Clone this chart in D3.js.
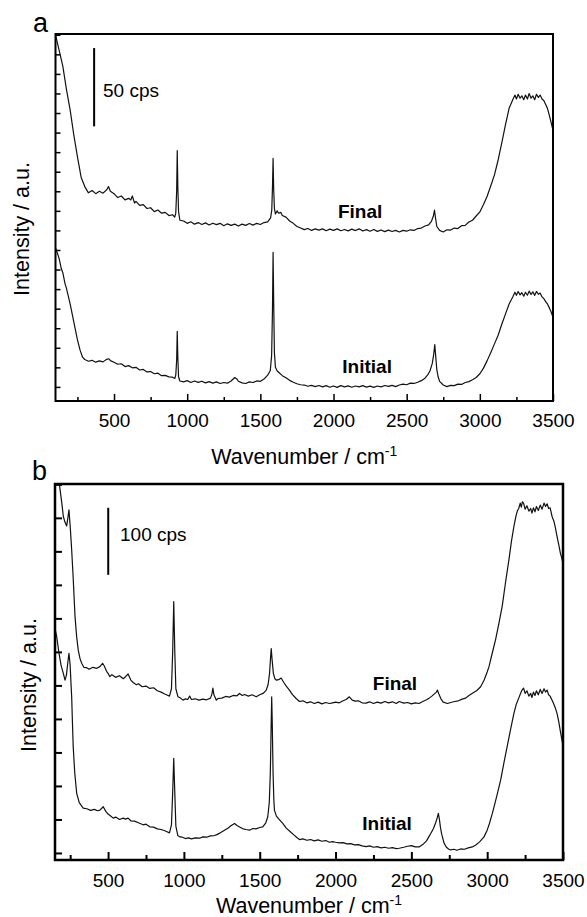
<!DOCTYPE html>
<html>
<head>
<meta charset="utf-8">
<script src="https://cdn.jsdelivr.net/npm/d3@7"></script>
<style>
  body { margin: 0; background: #fff; }
  svg text { font-family: "Liberation Sans", Arial, sans-serif; fill: #000; }
</style>
</head>
<body>
<div id="chart"></div>
<script>
// Raman spectra, [wavenumber cm-1, intensity cps]
const finalA = [[100,225],[125,215],[150,205],[175,190],[200,177],[225,161],[250,147],[275,134],[300,128],[325,124],[350,125.5],[375,123.5],[400,125],[425,123.8],[450,126],[462,128],[475,125],[500,123.5],[525,121],[550,122],[575,119.5],[600,120.5],[615,119.5],[625,122],[640,117.5],[650,118.5],[675,116],[700,116.5],[725,114],[750,114.5],[775,112],[800,113],[825,111],[850,111.5],[875,109.5],[900,110],[915,108.5],[922,111],[928,125],[932,151],[936,128],[941,112],[950,106.5],[975,106],[1000,104.5],[1025,105.5],[1050,104],[1075,105],[1100,103.8],[1125,104.8],[1150,103.5],[1175,104.6],[1200,103.7],[1225,104.5],[1250,103],[1275,104.2],[1300,103.2],[1325,104],[1350,102.8],[1375,104],[1400,103.2],[1425,104.4],[1450,103.4],[1475,104.5],[1500,103.8],[1525,105],[1550,105.5],[1570,108],[1578,113],[1583,128],[1587,146],[1591,127],[1596,114],[1603,110.5],[1615,112.5],[1625,111],[1640,111.5],[1650,109.5],[1675,108.5],[1700,106],[1725,104.5],[1750,102.5],[1775,101.5],[1800,100.5],[1825,101.2],[1850,100],[1875,101],[1900,100.2],[1925,101],[1950,99.8],[1975,100.8],[2000,100],[2025,101],[2050,99.8],[2075,100.6],[2100,99.7],[2125,100.8],[2150,99.9],[2175,101],[2200,99.6],[2225,100.5],[2250,99.5],[2275,100.6],[2300,99.4],[2325,100.3],[2350,99.2],[2375,100.2],[2400,99.3],[2425,100],[2450,99],[2475,100],[2500,99.5],[2525,100.4],[2550,100],[2575,101.2],[2600,101.5],[2625,102.8],[2650,103.5],[2670,106],[2682,109],[2690,113],[2697,108],[2706,102.5],[2725,100],[2750,99],[2775,100.4],[2800,100.2],[2825,101.5],[2850,101.2],[2875,103],[2900,103.2],[2925,105.4],[2950,106.5],[2975,109.2],[3000,111.8],[3025,116.5],[3050,121.8],[3075,128.5],[3100,135.5],[3125,145],[3150,156],[3175,167.5],[3200,178],[3225,183.5],[3240,186.5],[3250,184],[3262,187],[3275,184.5],[3287,186],[3300,183.5],[3312,186.5],[3325,184],[3337,187.5],[3350,184.5],[3362,186],[3375,183.5],[3387,187],[3400,185],[3412,186.5],[3425,184],[3437,183],[3450,180.5],[3462,178],[3475,173.5],[3487,169],[3500,164]];

const initialA = [[100,89],[125,82],[140,75.5],[150,73],[165,66],[175,63],[200,53],[225,41.5],[250,30],[268,23.5],[285,19],[300,17.5],[325,16.4],[350,17],[375,15.8],[400,16.6],[425,16],[450,17.6],[465,18],[475,16.8],[500,15.8],[525,14.5],[550,14.8],[575,13],[600,13.6],[625,12.2],[650,12.5],[675,10.8],[700,11.2],[725,9.6],[750,9.8],[775,8.4],[800,8.8],[825,7.2],[850,7.4],[875,6.4],[900,6.2],[915,5.4],[922,7.5],[928,17],[932,35.5],[936,19],[941,6.5],[950,3.8],[975,3.2],[1000,4],[1025,2.8],[1050,3.8],[1075,2.9],[1100,3.6],[1125,2.6],[1150,3.4],[1175,2.4],[1200,3.2],[1225,2.2],[1250,2.8],[1275,2.4],[1300,3.8],[1325,6],[1340,5],[1350,3.6],[1375,2.6],[1400,2.2],[1425,3.2],[1450,2.8],[1475,3.8],[1500,3.6],[1525,5],[1550,7.5],[1568,10.5],[1577,20],[1583,50],[1587,86],[1591,55],[1596,22],[1603,12.5],[1615,10.2],[1625,9.4],[1650,7.2],[1675,5.8],[1700,4.2],[1725,3],[1750,2],[1775,1.4],[1800,1.2],[1825,0.4],[1850,1],[1875,0.2],[1900,0.9],[1925,0],[1950,0.8],[1975,-0.2],[2000,0.6],[2025,-0.3],[2050,0.8],[2075,0],[2100,0.7],[2125,-0.2],[2150,0.6],[2175,0],[2200,0.8],[2225,-0.1],[2250,0.5],[2275,-0.3],[2300,0.6],[2325,0],[2350,0.9],[2375,0.3],[2400,1],[2425,0.2],[2450,1.2],[2475,1.8],[2500,1.4],[2525,2.4],[2550,2.2],[2575,3],[2600,4],[2625,5.6],[2645,7.8],[2660,10.5],[2675,15],[2685,21],[2692,27],[2698,20],[2706,11],[2715,6.5],[2725,3.5],[2750,1.2],[2775,0.2],[2800,1],[2825,0.8],[2850,1.8],[2875,1.6],[2900,2.8],[2925,3.4],[2950,4.6],[2975,6],[3000,8.4],[3025,12],[3050,16.8],[3075,22],[3100,27.5],[3125,33],[3150,40],[3175,46.5],[3200,53],[3225,57.5],[3240,60.5],[3250,58.5],[3262,61],[3275,58.8],[3287,60.2],[3300,58],[3312,60.5],[3325,58.6],[3337,61.2],[3350,59],[3362,60.8],[3375,58.5],[3387,61],[3400,59.2],[3412,60],[3425,57.5],[3437,56.5],[3450,54.5],[3462,53],[3475,50.5],[3487,48],[3500,44.5]];

const finalB = [[150,600],[165,565],[180,548],[195,522],[205,502],[215,494],[227,488],[235,500],[242,512],[250,488],[260,452],[270,410],[282,353],[293,322],[303,303],[315,290],[326,283],[340,277],[359,276.5],[375,274],[400,277],[425,275.5],[446,278],[464,283],[475,279],[490,271],[500,268],[512,263],[525,266],[550,262],[575,264.5],[600,260],[615,263],[632,267],[650,258],[667,254],[687,251],[700,252.5],[725,248],[750,249],[775,245.5],[800,246.5],[825,242],[850,240],[870,237.5],[885,236],[905,234],[918,245],[926,300],[933,375],[940,300],[947,245],[961,233],[975,231.5],[994,228],[1010,230],[1025,229],[1038,234],[1050,229],[1075,230],[1100,228],[1125,229.5],[1150,228.5],[1175,231],[1185,237],[1191,246],[1198,236],[1214,228],[1225,230.5],[1250,231],[1275,233.5],[1300,232.5],[1325,235],[1350,234.5],[1367,238],[1385,235],[1400,236.5],[1425,234],[1450,236],[1477,233],[1500,236],[1525,238.5],[1543,243],[1555,251],[1565,268],[1571,290],[1576,305],[1581,290],[1590,268],[1600,260],[1609,258],[1625,258.5],[1641,261],[1660,254],[1675,249],[1696,243],[1715,236.5],[1740,230.5],[1762,226],[1785,227],[1810,224],[1835,225.5],[1860,223],[1885,225],[1910,222.5],[1935,224.5],[1960,223],[1981,224],[2000,225],[2025,224],[2050,227],[2070,229],[2091,233],[2110,228],[2130,226.5],[2150,227],[2175,224],[2201,223.5],[2225,225.5],[2250,223],[2275,225],[2300,223.5],[2325,226],[2350,224],[2375,225.5],[2400,223],[2420,226],[2450,223.5],[2475,224.5],[2500,222.5],[2525,224],[2551,223],[2575,226],[2600,228.5],[2617,231],[2635,234],[2650,237],[2665,240],[2672,243],[2680,238],[2695,230],[2710,225],[2738,223],[2760,224.5],[2785,226],[2810,227],[2835,229.5],[2858,231],[2880,235],[2905,238.5],[2930,242],[2957,248],[2980,258],[3000,270],[3012,278],[3030,295],[3055,318],[3075,340],[3099,368],[3120,402],[3143,437],[3160,465],[3176,487],[3190,503],[3200,511],[3208,514],[3218,522],[3225,516],[3232,524],[3240,522],[3250,513],[3262,518],[3275,510],[3287,514],[3295,507],[3305,515],[3315,509],[3325,517],[3337,511],[3350,519],[3362,513],[3375,522],[3385,517],[3395,521],[3405,514],[3415,515],[3428,502],[3440,495],[3450,485],[3461,472],[3472,460],[3483,447],[3492,440],[3500,432]];

const initialB = [[150,335],[161,323],[175,300],[190,280],[205,268],[216,258],[225,265],[235,285],[242,298],[250,280],[255,255],[260,233],[265,195],[270,159],[280,120],[293,89],[310,75],[336,67],[360,66],[385,63.5],[410,65],[430,63],[446,64],[468,69],[485,62],[500,58],[515,55.5],[534,52],[550,53.5],[575,50],[600,52],[615,50.5],[632,52],[650,48],[675,47.5],[700,45],[731,42],[750,43],[775,39],[800,38.5],[825,36],[850,35],[870,33.5],[885,32],[905,30],[918,42],[926,90],[933,141],[940,90],[947,40],[960,26],[972,24],[990,23.5],[1010,21.5],[1030,22.5],[1050,21],[1075,22.5],[1104,22],[1125,24],[1150,23.5],[1175,25.5],[1200,26],[1214,27],[1240,30],[1265,33.5],[1290,37],[1310,40.5],[1334,44],[1350,41],[1370,38.5],[1390,36],[1410,35],[1433,34],[1455,36.5],[1475,36],[1500,38],[1520,39],[1540,45],[1553,54],[1563,75],[1570,120],[1575,185],[1579,233],[1583,190],[1588,120],[1593,80],[1597,64],[1610,55],[1625,51],[1652,44],[1675,37],[1700,32],[1725,27],[1745,23],[1762,20],[1785,21],[1810,19],[1835,20],[1860,18],[1885,19.5],[1910,17.5],[1935,18.5],[1960,16],[1981,17],[2000,16],[2025,15],[2050,15.5],[2075,13.5],[2100,14],[2125,12],[2150,12.5],[2175,10.5],[2201,9.5],[2225,10.5],[2250,8.5],[2275,9.5],[2300,7.5],[2325,8.5],[2350,7],[2375,8],[2400,6.5],[2420,7],[2450,8.5],[2475,10],[2500,11],[2525,9],[2551,9],[2575,12.5],[2600,18],[2615,24],[2628,29],[2645,36],[2660,45],[2670,52],[2678,59],[2685,50],[2692,38],[2700,28],[2705,24],[2715,15],[2730,9],[2745,6],[2760,4.5],[2780,5.5],[2800,4],[2825,6],[2850,5.5],[2875,7.5],[2902,9],[2925,12],[2950,16.5],[2979,24],[3000,34],[3015,44],[3034,59],[3050,73],[3070,91],[3089,109],[3110,134],[3132,159],[3155,185],[3176,208],[3192,222],[3208,231],[3220,238],[3230,243],[3240,246],[3250,238],[3262,242],[3275,234],[3287,238],[3295,232],[3305,240],[3315,235],[3325,242],[3337,236],[3350,244],[3362,238],[3375,245],[3385,240],[3395,243],[3405,236],[3415,234],[3428,228],[3440,222],[3450,216],[3461,208],[3472,196],[3483,181],[3492,170],[3500,160]];

// axis ticks
const xMajor = [500, 1000, 1500, 2000, 2500, 3000, 3500];
const xMinor = [250, 750, 1250, 1750, 2250, 2750, 3250];
const yTicksA = [0, 12.5, 25, 37.5, 50, 62.5, 75, 87.5, 100, 112.5, 125, 137.5, 150, 162.5, 175, 187.5, 200, 212.5, 225];
const yTicksB = [0, 50, 100, 150, 200, 250, 300, 350, 400, 450, 500, 550];
const seriesNames = ["Final", "Initial"];

let width = 587, height = 917;
var svg = d3.select("#chart").append("svg")
  .attr("width", width)
  .attr("height", height);

function drawPanel(p) {
  let x = d3.scaleLinear().domain(p.xDomain).range([p.left, p.right]);
  let y = d3.scaleLinear().domain(p.yDomain).range([p.bottom, p.top]);

  svg.append("clipPath").attr("id", "clip-" + p.id)
    .append("rect")
    .attr("x", p.left).attr("y", p.top)
    .attr("width", p.right - p.left).attr("height", p.bottom - p.top);

  // minor x ticks (inside)
  svg.append("g")
    .attr("transform", `translate(0,${p.bottom})`)
    .call(d3.axisBottom(x).tickValues(xMinor).tickSize(-p.minorLen).tickFormat(""))
    .call(g => g.select(".domain").remove())
    .call(g => g.selectAll("line").attr("stroke-width", p.tickW));

  // major x ticks with labels
  svg.append("g")
    .attr("transform", `translate(0,${p.bottom})`)
    .call(d3.axisBottom(x).tickValues(xMajor).tickSize(-p.majorLen)
      .tickPadding(p.labelPad).tickFormat(d3.format("d")))
    .attr("font-size", 19)
    .call(g => g.select(".domain").remove())
    .call(g => g.selectAll("line").attr("stroke-width", p.tickW));

  // y ticks (inside, no labels)
  svg.append("g")
    .attr("transform", `translate(${p.left},0)`)
    .call(d3.axisLeft(y).tickValues(p.yTicks).tickSize(-p.yLen).tickFormat(""))
    .call(g => g.select(".domain").remove())
    .call(g => g.selectAll("line").attr("stroke-width", p.tickW));

  let line = d3.line().x(d => x(d[0])).y(d => y(d[1]));

  svg.append("g").attr("clip-path", `url(#clip-${p.id})`)
    .selectAll("path")
    .data(p.series)
    .enter()
    .append("path")
    .attr("d", line)
    .attr("fill", "none")
    .attr("stroke", "#111")
    .attr("stroke-width", 1.2)
    .attr("stroke-linejoin", "round");

  // frame
  svg.append("rect")
    .attr("x", p.left).attr("y", p.top)
    .attr("width", p.right - p.left).attr("height", p.bottom - p.top)
    .attr("fill", "none").attr("stroke", "#000").attr("stroke-width", p.frameW);

  // series labels
  p.labels.forEach((l, i) => {
    svg.append("text")
      .attr("x", x(l[0])).attr("y", y(l[1]))
      .attr("text-anchor", "middle")
      .attr("font-size", 19).attr("font-weight", "bold")
      .text(seriesNames[i]);
  });

  // scale bar
  svg.append("line")
    .attr("x1", x(p.bar[0])).attr("x2", x(p.bar[0]))
    .attr("y1", y(p.bar[1])).attr("y2", y(p.bar[2]))
    .attr("stroke", "#000").attr("stroke-width", 2);
  svg.append("text")
    .attr("x", x(p.barText[0])).attr("y", y(p.barText[1]))
    .attr("font-size", 19)
    .text(p.barLabel);

  // axis titles
  let t = svg.append("text")
    .attr("x", (p.left + p.right) / 2).attr("y", p.xTitleY)
    .attr("text-anchor", "middle").attr("font-size", 21.5);
  t.append("tspan").text("Wavenumber / cm");
  t.append("tspan").attr("dy", -8).attr("font-size", 14).text("-1");

  svg.append("text")
    .attr("transform", `translate(${p.yTitleX},${p.yTitleY}) rotate(-90)`)
    .attr("text-anchor", "middle").attr("font-size", 21.5)
    .text("Intensity / a.u.");

  svg.append("text")
    .attr("x", p.letter[0]).attr("y", p.letter[1])
    .attr("font-size", 27)
    .text(p.id);
}

drawPanel({
  id: "a", left: 55.5, right: 553, top: 34, bottom: 401,
  xDomain: [100, 3500], yDomain: [-9, 225.5], yTicks: yTicksA,
  majorLen: 7, minorLen: 4, yLen: 5, tickW: 1.5, frameW: 2, labelPad: 12.5,
  series: [finalA, initialA],
  labels: [[2182, 108], [2230, 9]],
  bar: [364, 166.5, 216.5], barText: [425, 185.3], barLabel: "50 cps",
  xTitleY: 464, yTitleX: 29, yTitleY: 229, letter: [33, 32]
});

drawPanel({
  id: "b", left: 55, right: 563, top: 484, bottom: 860,
  xDomain: [150, 3500], yDomain: [-10.5, 550.5], yTicks: yTicksB,
  majorLen: 8, minorLen: 5, yLen: 7, tickW: 2, frameW: 2.5, labelPad: 13.5,
  series: [finalB, initialB],
  labels: [[2392, 243], [2340, 34]],
  bar: [501, 415, 515], barText: [579, 466], barLabel: "100 cps",
  xTitleY: 913, yTitleX: 36, yTitleY: 685, letter: [32, 480]
});
</script>
</body>
</html>
